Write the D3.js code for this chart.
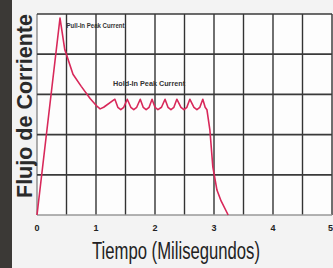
<!DOCTYPE html>
<html>
<head>
<meta charset="utf-8">
<script src="https://cdn.jsdelivr.net/npm/d3@7"></script>
<style>
  body { margin: 0; background: #f3f3f3; }
  svg { display: block; }
</style>
</head>
<body>
<svg id="chart" width="333" height="268"></svg>
<script>
// current trace (time in ms, current in grid units)
const timeMs = [0, 0.39, 0.47, 0.61, 0.75, 0.9, 1.02, 1.07, 1.13,
  1.32, 1.37, 1.42, 1.47,
  1.53, 1.59, 1.64, 1.69,
  1.75, 1.80, 1.85, 1.90,
  1.95, 2.00, 2.05, 2.11,
  2.17, 2.22, 2.27, 2.32,
  2.37, 2.44, 2.49, 2.54,
  2.59, 2.66, 2.71, 2.76,
  2.81, 2.85, 2.88, 2.93, 2.98, 3.05, 3.12, 3.24];
const current = [0, 4.9, 4.12, 3.5, 3.2, 2.9, 2.7, 2.64, 2.68,
  2.88, 2.68, 2.62, 2.68,
  2.88, 2.68, 2.62, 2.68,
  2.88, 2.68, 2.62, 2.68,
  2.88, 2.68, 2.62, 2.68,
  2.88, 2.68, 2.62, 2.68,
  2.88, 2.68, 2.62, 2.68,
  2.88, 2.68, 2.62, 2.68,
  2.88, 2.68, 2.62, 2.12, 1.2, 0.62, 0.35, 0];
const xTicks = [0, 1, 2, 3, 4, 5];
const xGrid = [0, 0.5, 1, 1.5, 2, 2.5, 3, 3.5, 4, 4.5, 5];
const yGrid = [0, 1, 2, 3, 4, 5];
const notes = [
  { label: "Pull-In Peak Current", t: 0.5, v: 4.65, len: 58 },
  { label: "Hold-In Peak Current", t: 1.29, v: 3.2, len: 72 }
];

const svg = d3.select("#chart");

// dark photo strip on the left
svg.append("rect").attr("x", 0).attr("y", 0).attr("width", 12).attr("height", 268).attr("fill", "#3b3936");

const x = d3.scaleLinear().domain([0, 5]).range([37, 332]);
const y = d3.scaleLinear().domain([0, 5]).range([215, 14]);

svg.append("rect")
  .attr("x", x(0)).attr("y", y(5))
  .attr("width", x(5) - x(0)).attr("height", y(0) - y(5))
  .attr("fill", "#fdfdfd");

const grid = svg.append("g");
grid.selectAll("line.v").data(xGrid).join("line")
  .attr("class", "v")
  .attr("x1", d => x(d)).attr("x2", d => x(d))
  .attr("y1", y(5)).attr("y2", y(0))
  .attr("stroke", (d, i) => i === 0 ? "#888" : "#333")
  .attr("stroke-width", 1.4);
grid.selectAll("line.h").data(yGrid).join("line")
  .attr("class", "h")
  .attr("x1", x(0)).attr("x2", x(5))
  .attr("y1", d => y(d)).attr("y2", d => y(d))
  .attr("stroke", (d, i) => i === 0 ? "#999" : "#3a3a3a")
  .attr("stroke-width", 1.7);

// tick labels (last one pulled inside the edge)
svg.append("g").selectAll("text").data(xTicks).join("text")
  .attr("x", d => d === 5 ? 333 : x(d)).attr("y", 231)
  .attr("text-anchor", d => d === 5 ? "end" : "middle")
  .attr("font-family", "Liberation Sans Narrow, Liberation Sans, sans-serif")
  .attr("font-weight", "bold").attr("font-size", 9).attr("fill", "#222")
  .text(d => d);

// the trace
const line = d3.line().x((d, i) => x(timeMs[i])).y(d => y(d));
svg.append("path")
  .datum(current)
  .attr("d", line)
  .attr("fill", "none")
  .attr("stroke", "#d8285a")
  .attr("stroke-width", 1.6)
  .attr("stroke-linejoin", "round");

// annotations
svg.append("g").selectAll("text").data(notes).join("text")
  .attr("x", d => x(d.t)).attr("y", d => y(d.v))
  .attr("font-family", "Liberation Sans Narrow, Liberation Sans, sans-serif")
  .attr("font-weight", "bold").attr("font-size", 7).attr("fill", "#333")
  .attr("textLength", d => d.len).attr("lengthAdjust", "spacingAndGlyphs")
  .text(d => d.label);

// axis titles
svg.append("text")
  .attr("transform", "translate(32,106) rotate(-90)")
  .attr("text-anchor", "middle")
  .attr("font-family", "Liberation Sans Narrow, Liberation Sans, sans-serif")
  .attr("font-weight", "bold").attr("font-size", 22).attr("fill", "#2a2a2a")
  .attr("textLength", 184).attr("lengthAdjust", "spacingAndGlyphs")
  .text("Flujo de Corriente");

svg.append("text")
  .attr("x", 176).attr("y", 259)
  .attr("text-anchor", "middle")
  .attr("font-family", "Liberation Sans Narrow, Liberation Sans, sans-serif")
  .attr("font-size", 23).attr("fill", "#222")
  .attr("textLength", 168).attr("lengthAdjust", "spacingAndGlyphs")
  .text("Tiempo (Milisegundos)");
</script>
</body>
</html>
